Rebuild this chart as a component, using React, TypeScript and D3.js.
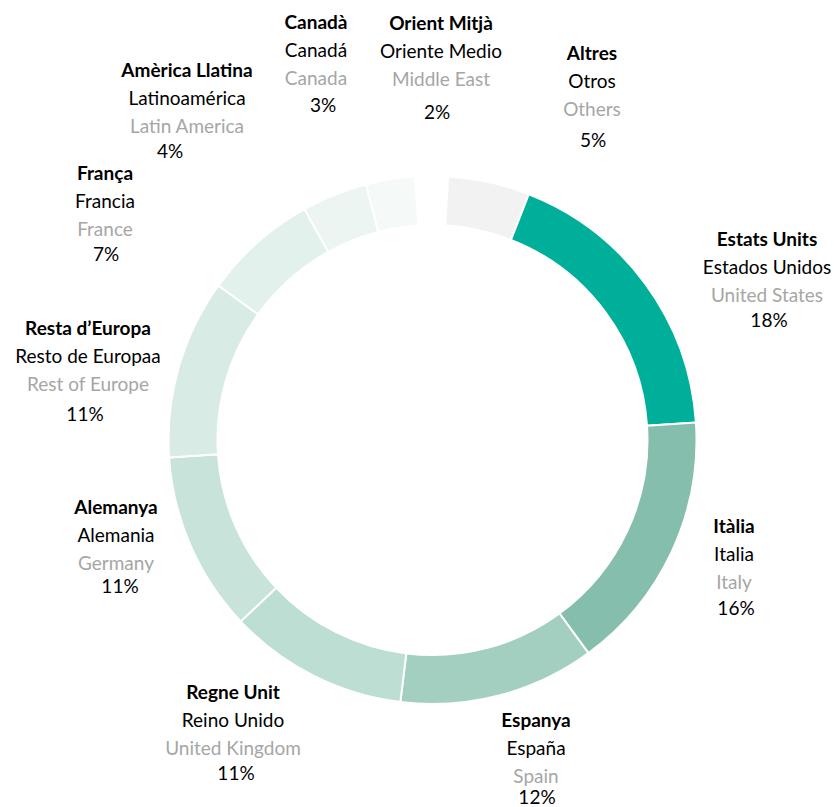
import React from "react";
import * as d3 from "d3";

const catalan = ["Orient Mitjà", "Altres", "Estats Units", "Itàlia", "Espanya", "Regne Unit", "Alemanya", "Resta d’Europa", "França", "Amèrica Llatina", "Canadà"];
const spanish = ["Oriente Medio", "Otros", "Estados Unidos", "Italia", "España", "Reino Unido", "Alemania", "Resto de Europaa", "Francia", "Latinoamérica", "Canadá"];
const english = ["Middle East", "Others", "United States", "Italy", "Spain", "United Kingdom", "Germany", "Rest of Europe", "France", "Latin America", "Canada"];
const shares = [2, 5, 18, 16, 12, 11, 11, 11, 7, 4, 3];
const colors = ["#ffffff", "#f2f2f2", "#00af9a", "#86bead", "#a3cfc0", "#bcded3", "#c8e3da", "#d8ebe5", "#e3f1ec", "#ecf5f2", "#f5faf8"];

// label layout: [x of text, y of first line center, x of percent, y of percent center]
const labelLayout: [number, number, number, number][] = [
  [441, 23, 437, 112],
  [592, 53, 593, 140],
  [767, 239, 769, 320],
  [734, 526, 736, 608],
  [536, 720, 537, 797],
  [233, 692, 236, 773],
  [116, 507, 120, 586],
  [88, 328, 85, 414],
  [105, 173, 106, 254],
  [187, 70, 170, 151],
  [316, 22, 323, 105],
];

const W = 834;
const H = 807;
const cx = 432.5;
const cy = 440;
const outerR = 264;
const innerR = 215;
const startDeg = -3.8;

export default function App() {
  const pie = d3
    .pie<number>()
    .sort(null)
    .value((d) => d)
    .startAngle((startDeg * Math.PI) / 180)
    .endAngle((startDeg * Math.PI) / 180 + 2 * Math.PI);
  const arcs = pie(shares);
  const arc = d3.arc<d3.PieArcDatum<number>>().innerRadius(innerR).outerRadius(outerR);
  const font = "Lato, 'Open Sans', sans-serif";
  const fs = 19;
  const lh = 28;
  return (
    <svg
      width={W}
      height={H}
      style={{ position: "absolute", left: 0, top: 0, background: "#fff" }}
      fontFamily={font}
    >
      <g transform={`translate(${cx},${cy})`}>
        {arcs.map((a, i) => (
          <path key={i} d={arc(a) || ""} fill={colors[i]} stroke="#ffffff" strokeWidth={2} />
        ))}
      </g>
      {labelLayout.map(([x, y, px, py], i) => (
        <g key={i} fontSize={fs} textAnchor="middle">
          <text x={x} y={y} dy="0.35em" fontWeight="bold" fill="#000">
            {catalan[i]}
          </text>
          <text x={x} y={y + lh} dy="0.35em" fill="#000">
            {spanish[i]}
          </text>
          <text x={x} y={y + 2 * lh} dy="0.35em" fill="#a6a6a6">
            {english[i]}
          </text>
          <text x={px} y={py} dy="0.35em" fill="#000">
            {`${shares[i]}%`}
          </text>
        </g>
      ))}
    </svg>
  );
}
